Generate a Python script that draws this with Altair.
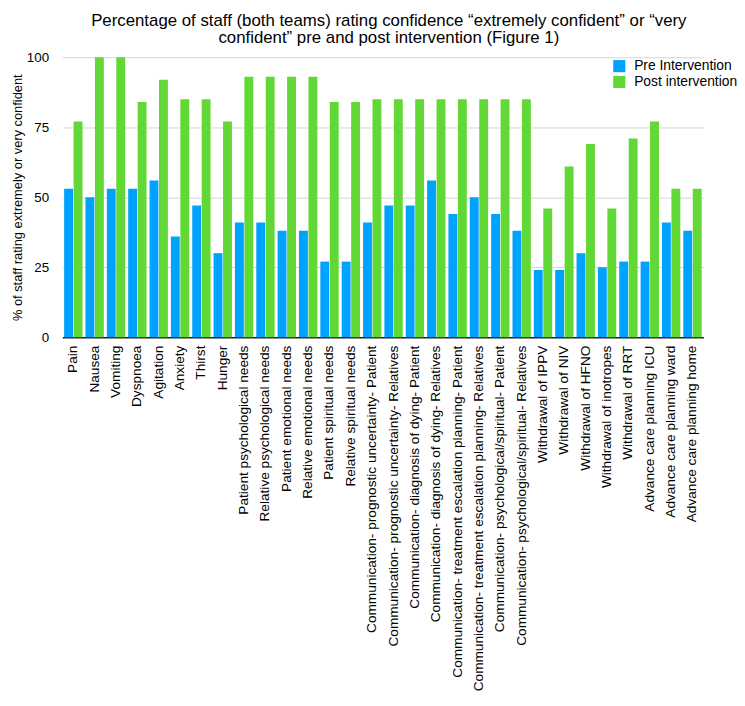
import altair as alt
import pandas as pd

categories = [
    "Pain", "Nausea", "Vomiting", "Dyspnoea", "Agitation", "Anxiety", "Thirst", "Hunger",
    "Patient psychological needs", "Relative psychological needs",
    "Patient emotional needs", "Relative emotional needs",
    "Patient spiritual needs", "Relative spiritual needs",
    "Communication- prognostic uncertainty- Patient",
    "Communication- prognostic uncertainty- Relatives",
    "Communication- diagnosis of dying- Patient",
    "Communication- diagnosis of dying- Relatives",
    "Communication- treatment escalation planning- Patient",
    "Communication- treatment escalation planning- Relatives",
    "Communication- psychological/spiritual- Patient",
    "Communication- psychological/spiritual- Relatives",
    "Withdrawal of IPPV", "Withdrawal of NIV", "Withdrawal of HFNO",
    "Withdrawal of inotropes", "Withdrawal of RRT",
    "Advance care planning ICU", "Advance care planning ward", "Advance care planning home",
]
pre = [53, 50, 53, 53, 56, 36, 47, 30, 41, 41, 38, 38, 27, 27, 41, 47, 47, 56, 44, 50,
       44, 38, 24, 24, 30, 25, 27, 27, 41, 38]
post = [77, 100, 100, 84, 92, 85, 85, 77, 93, 93, 93, 93, 84, 84, 85, 85, 85, 85, 85, 85,
        85, 85, 46, 61, 69, 46, 71, 77, 53, 53]
series = ["Pre Intervention", "Post intervention"]
colors = ["#00A2FF", "#61D836"]

rows = []
for c, a, b in zip(categories, pre, post):
    rows.append({"cat": c, "series": series[0], "value": a})
    rows.append({"cat": c, "series": series[1], "value": b})
df = pd.DataFrame(rows)

FONT = "Liberation Sans"

chart = alt.Chart(df).mark_bar().encode(
    x=alt.X("cat:N", sort=categories, title=None,
            scale=alt.Scale(range=[0, 648], paddingInner=0.14, paddingOuter=0.08),
            axis=alt.Axis(labelAngle=-90, labelFontSize=13.8, labelColor="#000",
                          labelFont=FONT, tickSize=0, labelPadding=8,
                          domainColor="#222", domainWidth=1.5, labelLimit=400,
                          grid=False)),
    xOffset=alt.XOffset("series:N", sort=series,
                        scale=alt.Scale(paddingInner=0.06)),
    y=alt.Y("value:Q", title="% of staff rating extremely or very confident",
            scale=alt.Scale(domain=[0, 100], nice=False),
            axis=alt.Axis(values=[0, 25, 50, 75, 100], domain=False, ticks=False,
                          labelFontSize=13.5, labelColor="#000", labelFont=FONT,
                          labelPadding=14, gridColor="#d6d6d6", gridWidth=1,
                          titleFontSize=13, titleFontWeight="normal",
                          titleColor="#000", titleFont=FONT, titlePadding=2)),
    color=alt.Color("series:N", sort=series,
                    scale=alt.Scale(domain=series, range=colors),
                    legend=alt.Legend(title=None, orient="none", legendX=556,
                                      legendY=2, symbolType="square",
                                      symbolSize=150, symbolStrokeWidth=0,
                                      symbolOpacity=1,
                                      labelFontSize=14, labelFont=FONT,
                                      labelColor="#000", rowPadding=2,
                                      labelOffset=8)),
).properties(
    width=660, height=283,
    title=alt.TitleParams(
        ["Percentage of staff (both teams) rating confidence \u201cextremely confident\u201d or \u201cvery",
         "confident\u201d pre and post intervention (Figure 1)"],
        fontSize=17, fontWeight="normal", font=FONT, color="#000",
        anchor="middle", lineHeight=18, offset=3),
    autosize=alt.AutoSizeParams(type="none"),
    padding={"left": 55, "top": 46, "right": 22, "bottom": 360},
).configure_view(stroke=None)

chart.save("out.html", embed_options={"renderer": "svg", "actions": False})
